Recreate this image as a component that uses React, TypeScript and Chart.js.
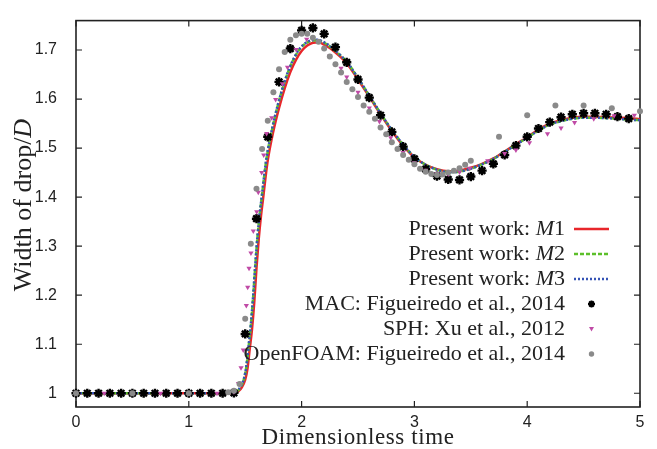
import React, { useEffect, useRef } from 'react';
import { Chart, registerables } from 'chart.js';

Chart.register(...registerables);

// ---------- data ----------
const xTicks = [0, 1, 2, 3, 4, 5];
const yTicks = [1.0, 1.1, 1.2, 1.3, 1.4, 1.5, 1.6, 1.7];

const m1X = [0, 0.5, 1.0, 1.40, 1.44, 1.47, 1.50, 1.52, 1.54, 1.56, 1.58, 1.60, 1.62, 1.64, 1.66, 1.68, 1.70, 1.75, 1.80, 1.85, 1.90, 1.95, 2.00, 2.05, 2.10, 2.15, 2.20, 2.25, 2.30, 2.35, 2.40, 2.50, 2.60, 2.70, 2.80, 2.90, 3.00, 3.10, 3.20, 3.30, 3.40, 3.50, 3.60, 3.70, 3.80, 3.90, 4.00, 4.10, 4.20, 4.30, 4.40, 4.50, 4.60, 4.70, 4.80, 4.90, 5.00];
const m1Y = [1.0, 1.0, 1.0, 1.0, 1.004, 1.012, 1.028, 1.050, 1.090, 1.130, 1.185, 1.255, 1.315, 1.362, 1.400, 1.440, 1.475, 1.535, 1.582, 1.622, 1.655, 1.680, 1.698, 1.709, 1.715, 1.716, 1.711, 1.704, 1.695, 1.685, 1.673, 1.640, 1.605, 1.569, 1.535, 1.505, 1.481, 1.466, 1.457, 1.453, 1.454, 1.460, 1.468, 1.479, 1.493, 1.508, 1.522, 1.538, 1.550, 1.557, 1.562, 1.564, 1.564, 1.563, 1.562, 1.561, 1.559];

const m2X = [0, 0.5, 1.0, 1.39, 1.43, 1.46, 1.49, 1.51, 1.53, 1.55, 1.57, 1.59, 1.61, 1.63, 1.65, 1.67, 1.69, 1.74, 1.79, 1.84, 1.89, 1.94, 1.99, 2.04, 2.09, 2.14, 2.19, 2.24, 2.29, 2.34, 2.40, 2.50, 2.60, 2.70, 2.80, 2.90, 3.00, 3.10, 3.20, 3.30, 3.40, 3.50, 3.60, 3.70, 3.80, 3.90, 4.00, 4.10, 4.20, 4.30, 4.40, 4.50, 4.60, 4.70, 4.80, 4.90, 5.00];
const m2Y = [1.0, 1.0, 1.0, 1.0, 1.004, 1.013, 1.030, 1.054, 1.095, 1.138, 1.195, 1.262, 1.322, 1.368, 1.406, 1.446, 1.480, 1.540, 1.588, 1.628, 1.661, 1.686, 1.704, 1.714, 1.719, 1.720, 1.716, 1.709, 1.700, 1.690, 1.676, 1.643, 1.607, 1.571, 1.537, 1.507, 1.482, 1.466, 1.456, 1.451, 1.452, 1.458, 1.467, 1.478, 1.492, 1.507, 1.521, 1.536, 1.548, 1.555, 1.560, 1.562, 1.562, 1.561, 1.560, 1.558, 1.557];

const m3X = [0, 0.5, 1.0, 1.39, 1.43, 1.46, 1.49, 1.51, 1.53, 1.55, 1.57, 1.59, 1.61, 1.63, 1.65, 1.67, 1.69, 1.74, 1.79, 1.84, 1.89, 1.94, 1.99, 2.04, 2.09, 2.14, 2.19, 2.24, 2.29, 2.34, 2.40, 2.50, 2.60, 2.70, 2.80, 2.90, 3.00, 3.10, 3.20, 3.30, 3.40, 3.50, 3.60, 3.70, 3.80, 3.90, 4.00, 4.10, 4.20, 4.30, 4.40, 4.50, 4.60, 4.70, 4.80, 4.90, 5.00];
const m3Y = [1.0, 1.0, 1.0, 1.0, 1.005, 1.014, 1.031, 1.055, 1.096, 1.140, 1.197, 1.264, 1.323, 1.369, 1.407, 1.447, 1.481, 1.541, 1.589, 1.629, 1.662, 1.687, 1.705, 1.715, 1.720, 1.721, 1.717, 1.710, 1.701, 1.690, 1.676, 1.643, 1.607, 1.571, 1.537, 1.507, 1.482, 1.466, 1.456, 1.451, 1.452, 1.458, 1.467, 1.478, 1.492, 1.507, 1.521, 1.536, 1.548, 1.555, 1.560, 1.562, 1.562, 1.561, 1.560, 1.558, 1.557];

const macX = [0, 0.1, 0.2, 0.3, 0.4, 0.5, 0.6, 0.7, 0.8, 0.9, 1.0, 1.1, 1.2, 1.3, 1.4, 1.5, 1.6, 1.7, 1.8, 1.9, 2.0, 2.1, 2.2, 2.3, 2.4, 2.5, 2.6, 2.7, 2.8, 2.9, 3.0, 3.1, 3.2, 3.3, 3.4, 3.5, 3.6, 3.7, 3.8, 3.9, 4.0, 4.1, 4.2, 4.3, 4.4, 4.5, 4.6, 4.7, 4.8, 4.9];
const macY = [1.0, 1.0, 1.0, 1.0, 1.0, 1.0, 1.0, 1.0, 1.0, 1.0, 1.0, 1.0, 1.0, 1.0, 1.001, 1.121, 1.356, 1.523, 1.635, 1.703, 1.740, 1.745, 1.733, 1.706, 1.675, 1.640, 1.603, 1.567, 1.533, 1.503, 1.478, 1.457, 1.443, 1.436, 1.435, 1.442, 1.454, 1.468, 1.486, 1.505, 1.523, 1.540, 1.553, 1.563, 1.569, 1.571, 1.571, 1.569, 1.564, 1.560];

const sphX = [0, 0.25, 0.5, 0.75, 1.0, 1.25, 1.40, 1.44, 1.463, 1.483, 1.51, 1.522, 1.534, 1.551, 1.572, 1.602, 1.616, 1.646, 1.664, 1.69, 1.735, 1.770, 1.830, 1.875, 1.952, 2.045, 2.25, 2.35, 2.40, 2.50, 2.60, 2.69, 2.79, 2.90, 3.0, 3.1, 3.2, 3.3, 3.4, 3.49, 3.65, 3.80, 3.90, 4.02, 4.18, 4.30, 4.42, 4.59, 4.77, 4.95];
const sphY = [1.0, 1.0, 1.0, 1.0, 1.0, 1.0, 1.003, 1.02, 1.052, 1.088, 1.179, 1.216, 1.255, 1.286, 1.331, 1.370, 1.410, 1.450, 1.486, 1.530, 1.562, 1.599, 1.631, 1.665, 1.701, 1.722, 1.688, 1.663, 1.645, 1.614, 1.582, 1.554, 1.521, 1.491, 1.470, 1.455, 1.448, 1.447, 1.451, 1.459, 1.474, 1.489, 1.496, 1.511, 1.529, 1.541, 1.552, 1.560, 1.566, 1.567];

const foamX = [0, 0.5, 1.0, 1.35, 1.40, 1.45, 1.50, 1.55, 1.60, 1.65, 1.70, 1.75, 1.80, 1.85, 1.90, 1.95, 2.00, 2.05, 2.10, 2.15, 2.20, 2.25, 2.30, 2.35, 2.40, 2.45, 2.50, 2.55, 2.60, 2.65, 2.70, 2.75, 2.80, 2.85, 2.90, 2.95, 3.00, 3.05, 3.10, 3.15, 3.20, 3.25, 3.30, 3.35, 3.40, 3.45, 3.50, 3.75, 4.00, 4.25, 4.50, 4.75, 5.00];
const foamY = [1.0, 1.0, 1.0, 1.002, 1.005, 1.019, 1.152, 1.305, 1.417, 1.498, 1.556, 1.614, 1.661, 1.696, 1.721, 1.730, 1.733, 1.733, 1.725, 1.717, 1.703, 1.687, 1.671, 1.654, 1.635, 1.620, 1.604, 1.587, 1.574, 1.560, 1.542, 1.528, 1.512, 1.498, 1.486, 1.476, 1.467, 1.458, 1.452, 1.447, 1.445, 1.446, 1.450, 1.454, 1.459, 1.466, 1.474, 1.523, 1.567, 1.587, 1.587, 1.581, 1.575];

const legendLabels = [
  ['Present work: ', 'M', '1'],
  ['Present work: ', 'M', '2'],
  ['Present work: ', 'M', '3'],
  ['MAC: Figueiredo et al., 2014', '', ''],
  ['SPH: Xu et al., 2012', '', ''],
  ['OpenFOAM: Figueiredo et al., 2014', '', ''],
];
const xTitle = 'Dimensionless time';
const yTitle = ['Width of drop/', 'D'];

// ---------- styles ----------
const RED = '#e8262b';
const GREEN = '#5cbf2a';
const BLUE = '#3553b5';
const MAG = '#c04aa6';
const GRAY = '#8a8a8a';
const SERIF = '"Liberation Serif", "Times New Roman", serif';
const SANS = '"Liberation Sans", Arial, sans-serif';
const TEXT = '#222';

const pts = (xs: number[], ys: number[]) => xs.map((x, i) => ({ x, y: ys[i] }));

function drawStar(ctx: CanvasRenderingContext2D, x: number, y: number, r: number, lw: number) {
  ctx.save();
  ctx.strokeStyle = '#000';
  ctx.lineWidth = lw;
  ctx.beginPath();
  for (let k = 0; k < 4; k++) {
    const a = (k * Math.PI) / 4;
    ctx.moveTo(x - r * Math.cos(a), y - r * Math.sin(a));
    ctx.lineTo(x + r * Math.cos(a), y + r * Math.sin(a));
  }
  ctx.stroke();
  ctx.restore();
}

function drawParts(ctx: CanvasRenderingContext2D, parts: string[], right: number, y: number, size: number, spacing: string) {
  const reg = `${size}px ${SERIF}`;
  const ita = `italic ${size}px ${SERIF}`;
  const fonts = [reg, ita, reg];
  (ctx as any).letterSpacing = spacing;
  const widths = parts.map((p, i) => {
    ctx.font = fonts[i];
    return p ? ctx.measureText(p).width : 0;
  });
  let x = right - widths.reduce((s, w) => s + w, 0);
  parts.forEach((p, i) => {
    if (!p) return;
    ctx.font = fonts[i];
    ctx.fillText(p, x, y);
    x += widths[i];
  });
  (ctx as any).letterSpacing = '0px';
}

const framePlugin = {
  id: 'frame',
  beforeDatasetsDraw(chart: any) {
    const { ctx, chartArea: a, scales } = chart;
    ctx.save();
    ctx.strokeStyle = '#222';
    ctx.lineWidth = 1.6;
    ctx.strokeRect(a.left, a.top, a.right - a.left, a.bottom - a.top);
    ctx.lineWidth = 1.2;
    const tl = 6;
    ctx.beginPath();
    xTicks.forEach((v) => {
      const px = scales.x.getPixelForValue(v);
      ctx.moveTo(px, a.bottom);
      ctx.lineTo(px, a.bottom - tl);
      ctx.moveTo(px, a.top);
      ctx.lineTo(px, a.top + tl);
    });
    yTicks.forEach((v) => {
      const py = scales.y.getPixelForValue(v);
      ctx.moveTo(a.left, py);
      ctx.lineTo(a.left + tl, py);
      ctx.moveTo(a.right, py);
      ctx.lineTo(a.right - tl, py);
    });
    ctx.stroke();
    ctx.restore();
  },
  afterDraw(chart: any) {
    const { ctx, chartArea: a } = chart;
    ctx.save();
    ctx.fillStyle = TEXT;
    ctx.textAlign = 'left';
    ctx.textBaseline = 'middle';
    // x title
    ctx.font = `23px ${SERIF}`;
    (ctx as any).letterSpacing = '0.6px';
    const xw = ctx.measureText(xTitle).width;
    drawParts(ctx, [xTitle, '', ''], (a.left + a.right) / 2 + xw / 2, 438, 23, '0.6px');
    // y title
    ctx.save();
    ctx.translate(24, 205);
    ctx.rotate(-Math.PI / 2);
    ctx.font = `26px ${SERIF}`;
    const yw1 = ctx.measureText(yTitle[0]).width;
    ctx.font = `italic 26px ${SERIF}`;
    const yw2 = ctx.measureText(yTitle[1]).width;
    drawParts(ctx, [yTitle[0], yTitle[1], ''], (yw1 + yw2) / 2, 0, 26, '0px');
    ctx.restore();

    // legend
    const rightX = 565;
    const y0 = 229;
    const dy = 25;
    legendLabels.forEach((parts, i) => {
      drawParts(ctx, parts, rightX, y0 + i * dy, 22, '0px');
    });
    // samples
    const sx0 = 574, sx1 = 609, sxc = 591.5;
    const lineSample = (y: number, color: string, dash: number[]) => {
      ctx.save();
      ctx.strokeStyle = color;
      ctx.lineWidth = 2.5;
      ctx.setLineDash(dash);
      ctx.beginPath();
      ctx.moveTo(sx0, y);
      ctx.lineTo(sx1, y);
      ctx.stroke();
      ctx.restore();
    };
    lineSample(y0, RED, []);
    lineSample(y0 + dy, GREEN, [4, 2]);
    lineSample(y0 + 2 * dy, BLUE, [2, 2]);
    drawStar(ctx, sxc, y0 + 3 * dy, 3.5, 2);
    // triangle down
    ctx.fillStyle = MAG;
    ctx.beginPath();
    const ty = y0 + 4 * dy;
    ctx.moveTo(sxc - 2.5, ty - 2);
    ctx.lineTo(sxc + 2.5, ty - 2);
    ctx.lineTo(sxc, ty + 2.5);
    ctx.closePath();
    ctx.fill();
    ctx.fillStyle = GRAY;
    ctx.beginPath();
    ctx.arc(sxc, y0 + 5 * dy, 2.7, 0, Math.PI * 2);
    ctx.fill();
    ctx.restore();
  },
};

export default function App() {
  const ref = useRef<HTMLCanvasElement>(null);
  useEffect(() => {
    document.body.style.margin = '0';
    const canvas = ref.current!;
    const chart = new Chart(canvas, {
      type: 'scatter',
      data: {
        datasets: [
          {
            label: 'OpenFOAM: Figueiredo et al., 2014',
            data: pts(foamX, foamY),
            showLine: false,
            pointStyle: 'circle',
            pointRadius: 3,
            backgroundColor: GRAY,
            borderColor: GRAY,
            borderWidth: 0,
          },
          {
            label: 'SPH: Xu et al., 2012',
            data: pts(sphX, sphY),
            showLine: false,
            pointStyle: 'triangle',
            rotation: 180,
            pointRadius: 3,
            backgroundColor: MAG,
            borderColor: MAG,
            borderWidth: 0,
          },
          {
            label: 'MAC: Figueiredo et al., 2014',
            data: pts(macX, macY),
            showLine: false,
            pointStyle: 'star',
            pointRadius: 4.6,
            backgroundColor: '#000',
            borderColor: '#000',
            borderWidth: 2.4,
          },
          {
            label: 'Present work: M3',
            data: pts(m3X, m3Y),
            showLine: true,
            borderColor: BLUE,
            borderWidth: 2.5,
            borderDash: [2, 2],
            pointRadius: 0,
            cubicInterpolationMode: 'monotone',
          },
          {
            label: 'Present work: M2',
            data: pts(m2X, m2Y),
            showLine: true,
            borderColor: GREEN,
            borderWidth: 2.5,
            borderDash: [4, 2],
            pointRadius: 0,
            cubicInterpolationMode: 'monotone',
          },
          {
            label: 'Present work: M1',
            data: pts(m1X, m1Y),
            showLine: true,
            borderColor: RED,
            borderWidth: 2.5,
            pointRadius: 0,
            cubicInterpolationMode: 'monotone',
          },
        ],
      } as any,
      options: {
        responsive: false,
        animation: false,
        devicePixelRatio: 1,
        clip: false as any,
        layout: { padding: { left: 0, right: 17, top: 9, bottom: 0 } },
        plugins: {
          legend: { display: false },
          tooltip: { enabled: false },
          title: { display: false },
        },
        scales: {
          x: {
            type: 'linear',
            min: 0,
            max: 5,
            grid: { display: false },
            border: { display: false },
            afterFit: (s: any) => { s.height = 42; },
            afterBuildTicks: (s: any) => { s.ticks = xTicks.map((v) => ({ value: v })); },
            ticks: {
              color: TEXT,
              font: { family: SANS, size: 16 },
              padding: -2,
              maxRotation: 0,
              callback: (v: any) => String(v),
            },
          },
          y: {
            type: 'linear',
            min: 0.972,
            max: 1.76,
            grid: { display: false },
            border: { display: false },
            afterFit: (s: any) => { s.width = 76; },
            afterBuildTicks: (s: any) => { s.ticks = yTicks.map((v) => ({ value: v })); },
            ticks: {
              color: TEXT,
              font: { family: SANS, size: 16 },
              padding: 11,
              callback: (v: any) => (Math.abs(v - 1) < 1e-9 ? '1' : Number(v).toFixed(1)),
            },
          },
        },
      } as any,
      plugins: [framePlugin],
    });
    return () => chart.destroy();
  }, []);
  return (
    <div style={{ width: 657, height: 449 }}>
      <canvas ref={ref} width={657} height={449} style={{ display: 'block' }} />
    </div>
  );
}
